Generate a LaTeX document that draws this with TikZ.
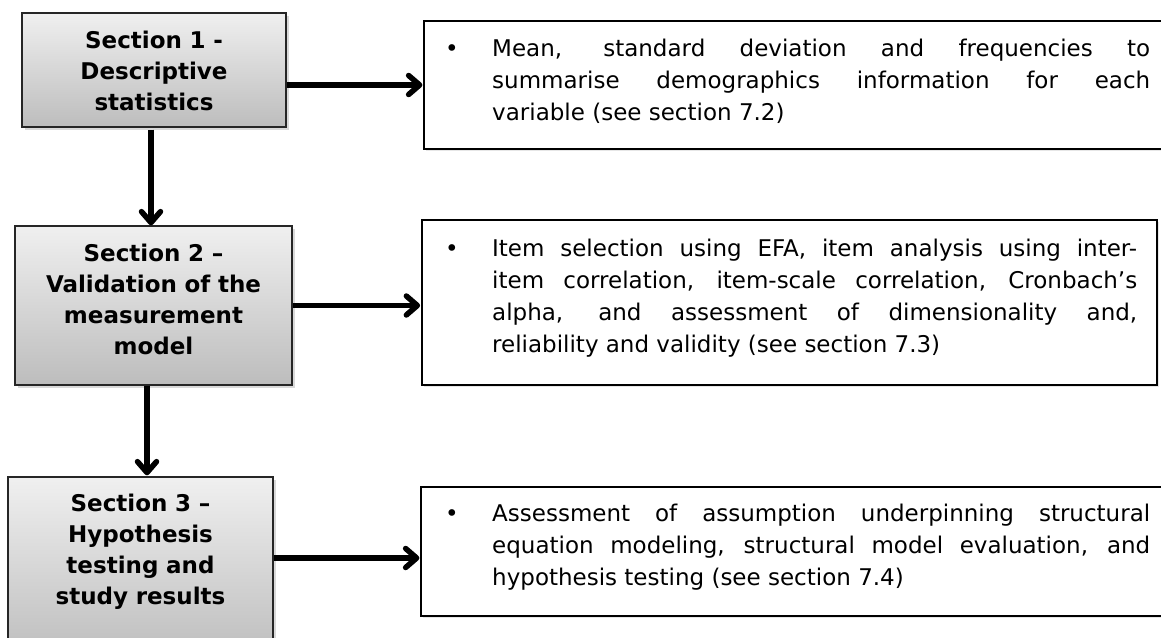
\documentclass[tikz,border=0pt]{standalone}
\usepackage{fontspec}
\setmainfont{DejaVu Sans}
\usetikzlibrary{arrows.meta,shadows}
\begin{document}
\begin{tikzpicture}[x=1pt,y=-1pt,
  secbox/.style={draw=black!85, line width=1.3pt, top color=black!6, bottom color=black!26,
    drop shadow={shadow xshift=2.5pt, shadow yshift=-2.5pt, opacity=0.3},
    inner sep=0pt, rectangle},
  infobox/.style={draw=black, line width=1.2pt, fill=white,
    drop shadow={shadow xshift=1.5pt, shadow yshift=-1.5pt, opacity=0.2},
    inner sep=0pt, rectangle},
  sectext/.style={anchor=base, inner sep=0pt, align=center, text width=250pt,
    font=\fontsize{23}{31}\selectfont\bfseries},
  infotext/.style={anchor=base west, inner sep=0pt, align=justify,
    font=\fontsize{23}{32}\selectfont},
  conn/.style={line width=5.5pt, line cap=butt,
    -{Straight Barb[length=11pt,width=19pt,line width=5.5pt,round]}}
]
\useasboundingbox (0,0) rectangle (1161,637);

% left section boxes
\node[secbox, minimum width=264pt, minimum height=114pt] (L1) at (154,70) {};
\node[secbox, minimum width=277pt, minimum height=159pt] (L2) at (153.5,305.5) {};
\node[secbox, minimum width=265pt, minimum height=183pt] (L3) at (140.5,568.5) {};

\node[sectext] (L1t) at (154,48.5) {Section 1 -\\Descriptive\\statistics};
\node[sectext] (L2t) at (153.5,261.5) {Section 2 –\\Validation of the\\measurement\\model};
\node[sectext] (L3t) at (140.5,511.5) {Section 3 –\\Hypothesis\\testing and\\study results};

% right info boxes
\node[infobox, minimum width=751pt, minimum height=128pt] (R1) at (799.5,85) {};
\node[infobox, line width=1.8pt, minimum width=735pt, minimum height=165pt] (R2) at (789.5,302.5) {};
\node[infobox, minimum width=754pt, minimum height=129pt] (R3) at (798,551.5) {};

\newcommand{\bulletpar}{\tolerance=10000\hbadness=10000\hyphenpenalty=10000\noindent\llap{\makebox[47pt][l]{•}}}

\node[infotext, text width=658pt] (R1t) at (492,56.5) {\bulletpar Mean, standard deviation and frequencies to\linebreak summarise demographics information for each\linebreak variable (see section 7.2)};
\node[infotext, text width=645pt] (R2t) at (492,256.7) {\bulletpar Item selection using EFA, item analysis using inter-\linebreak item correlation, item-scale correlation, Cronbach’s\linebreak alpha, and assessment of dimensionality and,\linebreak reliability and validity (see section 7.3)};
\node[infotext, text width=658pt] (R3t) at (492,521.5) {\bulletpar Assessment of assumption underpinning structural\linebreak equation modeling, structural model evaluation, and\linebreak hypothesis testing (see section 7.4)};

% connectors
\draw[conn, shorten >=1pt] (L1.east |- R1.west) -- (R1.west);
\draw[conn, shorten >=1pt] (L2.east) -- (L2.east -| R2.west);
\coordinate (a3) at ([yshift=-6.5pt]R3.west);
\draw[conn, shorten >=1pt] (L3.east |- a3) -- (a3);

\coordinate (v1) at ([xshift=-3pt,yshift=-2pt]L1.south);
\draw[conn] (v1) -- (v1 |- L2.north);
\coordinate (v2) at ([xshift=-6.5pt]L2.south);
\draw[conn, shorten >=1pt] (v2) -- (v2 |- L3.north);
\end{tikzpicture}
\end{document}
